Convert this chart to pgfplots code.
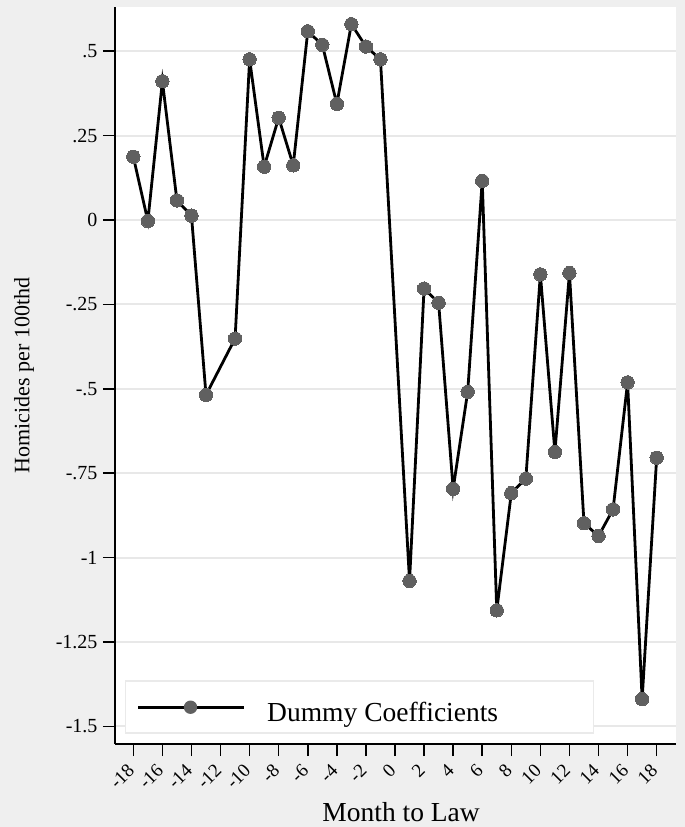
\documentclass[border=0pt]{standalone}
\usepackage{fontspec}
\setmainfont{Liberation Serif}
\usepackage{pgfplots}
\pgfplotsset{compat=1.18}
\definecolor{bggray}{RGB}{239,239,239}
\definecolor{mkgray}{RGB}{96,96,96}
\definecolor{gridgray}{RGB}{232,232,232}
\definecolor{leggray}{RGB}{234,234,234}
\pgfplotstableread{
x y
-18 0.1875
-17 -0.003
-16 0.411
-15 0.058
-14 0.013
-13 -0.518
-11 -0.351
-10 0.476
-9 0.158
-8 0.303
-7 0.162
-6 0.559
-5 0.519
-4 0.344
-3 0.580
-2 0.514
-1 0.476
1 -1.069
2 -0.203
3 -0.245
4 -0.796
5 -0.509
6 0.116
7 -1.156
8 -0.809
9 -0.766
10 -0.161
11 -0.687
12 -0.157
13 -0.898
14 -0.936
15 -0.857
16 -0.481
17 -1.419
18 -0.704
}\coef
\begin{document}
\begin{tikzpicture}[x=1pt,y=1pt]
\useasboundingbox (0,0) rectangle (685,827);
\fill[bggray] (0,0) rectangle (685,827);
\begin{axis}[
  at={(115pt,83pt)}, anchor=south west,
  scale only axis, width=561pt, height=737pt,
  xmin=-19.26, xmax=19.33, ymin=-1.552, ymax=0.631,
  axis background/.style={fill=white},
  axis x line*=bottom, axis y line*=left,
  x axis line style={-, line width=1.6pt},
  y axis line style={-, line width=1.6pt},
  ymajorgrids, grid style={gridgray, line width=2pt},
  tick align=outside, major tick length=12pt,
  tick style={black, line width=1.5pt},
  xtick={-18,-16,...,18},
  xticklabels={-18,-16,-14,-12,-10,-8,-6,-4,-2,0,2,4,6,8,10,12,14,16,18},
  ytick={-1.5,-1.25,-1,-0.75,-0.5,-0.25,0,0.25,0.5},
  yticklabels={-1.5,-1.25,-1,-.75,-.5,-.25,0,.25,.5},
  yticklabel style={font=\fontsize{20}{20}\selectfont},
  yticklabel shift=2pt,
  xticklabel style={font=\fontsize{19}{19}\selectfont, rotate=45, anchor=east},
  xticklabel shift=9pt,
  xlabel={Month to Law},
  xlabel style={font=\fontsize{27.5}{28}\selectfont, at={(axis description cs:0.51,-0.1045)}, anchor=base},
  ylabel={Homicides per 100thd},
  ylabel style={font=\fontsize{22}{22}\selectfont, at={(axis description cs:-0.162,0.5)}, anchor=center},
  legend style={at={(axis description cs:0.0178,0.0136)}, anchor=south west,
    fill=white, draw=leggray, line width=1.5pt, inner sep=0pt,
    font=\fontsize{27.5}{28}\selectfont, nodes={inner sep=0pt},
    /tikz/column sep=0pt},
  legend image code/.code={
    \path[draw=none, fill=none] (0pt,-26pt) rectangle (141.5pt,26pt);
    \draw[black, line width=2.8pt] (12.4pt,0pt) -- (118.7pt,0pt);
    \fill[mkgray, draw=none] (64.8pt,0pt) circle (6.7pt);
  },
  clip marker paths=true,
]
\addplot[black, line width=2.8pt, mark=*, mark size=6.7pt,
  mark options={fill=mkgray, draw=mkgray, line width=0pt}] table {\coef};
\addlegendentry{\makebox[326.5pt][l]{\rule[-26pt]{0pt}{52pt}\raisebox{-2pt}{Dummy Coefficients}}}
\end{axis}
\end{tikzpicture}
\end{document}
